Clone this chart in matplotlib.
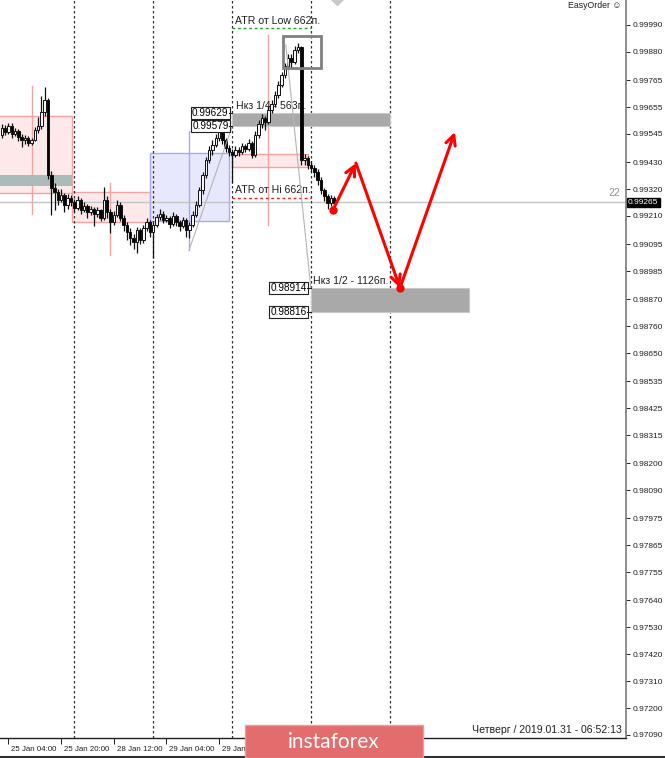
import matplotlib
matplotlib.use('Agg')
import matplotlib.pyplot as plt
import matplotlib.transforms as mtransforms
from matplotlib.patches import Rectangle
from matplotlib.lines import Line2D

plt.rcParams['font.family'] = ['Liberation Sans', 'DejaVu Sans']

# ---------------- data ----------------
bars = list(range(-2, 100))  # hourly bars, 0 = 25 Jan 04:00
opens = [0.99540, 0.99569, 0.99553, 0.99577, 0.99545, 0.99557, 0.99532, 0.99520, 0.99528, 0.99508,
         0.99520, 0.99561, 0.99577, 0.99635, 0.99684, 0.99377, 0.99324, 0.99308, 0.99275, 0.99296,
         0.99255, 0.99283, 0.99267, 0.99242, 0.99275, 0.99234, 0.99251, 0.99226, 0.99238, 0.99218,
         0.99234, 0.99202, 0.99275, 0.99226, 0.99185, 0.99214, 0.99255, 0.99202, 0.99173, 0.99144,
         0.99120, 0.99104, 0.99153, 0.99112, 0.99161, 0.99185, 0.99144, 0.99173, 0.99206, 0.99218,
         0.99194, 0.99202, 0.99177, 0.99210, 0.99185, 0.99169, 0.99194, 0.99153, 0.99173, 0.99214,
         0.99255, 0.99316, 0.99377, 0.99439, 0.99479, 0.99500, 0.99528, 0.99553, 0.99520, 0.99488,
         0.99471, 0.99459, 0.99479, 0.99471, 0.99496, 0.99484, 0.99508, 0.99459, 0.99541, 0.99584,
         0.99610, 0.99594, 0.99643, 0.99667, 0.99704, 0.99745, 0.99786, 0.99822, 0.99855, 0.99839,
         0.99888, 0.99900, 0.99439, 0.99447, 0.99418, 0.99406, 0.99390, 0.99357, 0.99316, 0.99291,
         0.99263, 0.99283]
highs = [0.99585, 0.99580, 0.99590, 0.99588, 0.99570, 0.99565, 0.99545, 0.99540, 0.99535, 0.99530,
         0.99575, 0.99615, 0.99700, 0.99737, 0.99690, 0.99395, 0.99345, 0.99320, 0.99320, 0.99305,
         0.99300, 0.99295, 0.99280, 0.99290, 0.99285, 0.99265, 0.99260, 0.99250, 0.99245, 0.99245,
         0.99240, 0.99330, 0.99290, 0.99240, 0.99230, 0.99275, 0.99265, 0.99215, 0.99185, 0.99160,
         0.99135, 0.99165, 0.99160, 0.99175, 0.99200, 0.99195, 0.99185, 0.99220, 0.99240, 0.99230,
         0.99215, 0.99210, 0.99225, 0.99220, 0.99195, 0.99205, 0.99200, 0.99185, 0.99230, 0.99270,
         0.99330, 0.99390, 0.99450, 0.99495, 0.99520, 0.99545, 0.99575, 0.99565, 0.99530, 0.99500,
         0.99485, 0.99495, 0.99490, 0.99510, 0.99505, 0.99525, 0.99515, 0.99555, 0.99600, 0.99625,
         0.99620, 0.99660, 0.99685, 0.99720, 0.99760, 0.99800, 0.99835, 0.99870, 0.99870, 0.99905,
         0.99916, 0.99905, 0.99465, 0.99455, 0.99435, 0.99420, 0.99400, 0.99370, 0.99325, 0.99300,
         0.99295, 0.99290]
lows = [0.99530, 0.99540, 0.99545, 0.99530, 0.99535, 0.99515, 0.99490, 0.99505, 0.99495, 0.99500,
        0.99515, 0.99550, 0.99565, 0.99620, 0.99360, 0.99214, 0.99235, 0.99255, 0.99265, 0.99225,
        0.99240, 0.99250, 0.99225, 0.99235, 0.99220, 0.99225, 0.99200, 0.99215, 0.99170, 0.99205,
        0.99190, 0.99195, 0.99200, 0.99140, 0.99175, 0.99205, 0.99190, 0.99150, 0.99110, 0.99090,
        0.99075, 0.99060, 0.99095, 0.99100, 0.99150, 0.99125, 0.99040, 0.99165, 0.99195, 0.99180,
        0.99185, 0.99160, 0.99170, 0.99170, 0.99150, 0.99160, 0.99125, 0.99120, 0.99165, 0.99205,
        0.99245, 0.99300, 0.99365, 0.99425, 0.99460, 0.99490, 0.99515, 0.99505, 0.99470, 0.99455,
        0.99345, 0.99450, 0.99455, 0.99465, 0.99470, 0.99475, 0.99445, 0.99450, 0.99530, 0.99570,
        0.99560, 0.99585, 0.99630, 0.99655, 0.99690, 0.99735, 0.99775, 0.99810, 0.99815, 0.99830,
        0.99875, 0.99420, 0.99420, 0.99400, 0.99390, 0.99370, 0.99335, 0.99300, 0.99270, 0.99240,
        0.99250, 0.99255]
closes = [0.99569, 0.99553, 0.99577, 0.99545, 0.99557, 0.99532, 0.99520, 0.99528, 0.99508, 0.99520,
          0.99561, 0.99577, 0.99635, 0.99684, 0.99377, 0.99324, 0.99308, 0.99275, 0.99296, 0.99255,
          0.99283, 0.99267, 0.99242, 0.99275, 0.99234, 0.99251, 0.99226, 0.99238, 0.99218, 0.99234,
          0.99202, 0.99275, 0.99226, 0.99185, 0.99214, 0.99255, 0.99202, 0.99173, 0.99144, 0.99120,
          0.99104, 0.99153, 0.99112, 0.99161, 0.99185, 0.99144, 0.99173, 0.99206, 0.99218, 0.99194,
          0.99202, 0.99177, 0.99210, 0.99185, 0.99169, 0.99194, 0.99153, 0.99173, 0.99214, 0.99255,
          0.99316, 0.99377, 0.99439, 0.99479, 0.99500, 0.99528, 0.99553, 0.99520, 0.99488, 0.99471,
          0.99459, 0.99479, 0.99471, 0.99496, 0.99484, 0.99508, 0.99459, 0.99541, 0.99584, 0.99610,
          0.99594, 0.99643, 0.99667, 0.99704, 0.99745, 0.99786, 0.99822, 0.99855, 0.99839, 0.99888,
          0.99900, 0.99439, 0.99447, 0.99418, 0.99406, 0.99390, 0.99357, 0.99316, 0.99291, 0.99263,
          0.99283, 0.99263]

price_ticks = [0.99990, 0.99880, 0.99765, 0.99655, 0.99545, 0.99430, 0.99320, 0.99210, 0.99095,
               0.98985, 0.98870, 0.98760, 0.98650, 0.98535, 0.98425, 0.98315, 0.98200, 0.98090,
               0.97975, 0.97865, 0.97755, 0.97640, 0.97530, 0.97420, 0.97310, 0.97200, 0.97090]
time_ticks = [0, 16, 32, 48, 64]
time_labels = ['25 Jan 04:00', '25 Jan 20:00', '28 Jan 12:00', '29 Jan 04:00', '29 Jan 20:00']
day_breaks = [20, 44, 68, 92, 116]
current_price = 0.99265

zone_quarter = (0.99579, 0.99629)
zone_half = (0.98816, 0.98914)
atr_low_level = 0.99978
atr_hi_level = 0.99283
forecast_x = [98.6, 105.6, 119.0, 135.7]
forecast_y = [0.99234, 0.99426, 0.98916, 0.99553]

# ---------------- figure ----------------
fig = plt.figure(figsize=(6.65, 7.58), dpi=100)
ax = fig.add_axes([0, 20 / 758, 626 / 665, 738 / 758])
ax.set_xlim(-2.58, 187.7)
ax.set_ylim(0.970777, 1.000921)

for s in ['top', 'left']:
    ax.spines[s].set_visible(False)
ax.spines['right'].set_color('#7a7a7a')
ax.spines['right'].set_linewidth(1.2)
ax.spines['bottom'].set_color('#202020')
ax.spines['bottom'].set_linewidth(1.0)

ax.yaxis.tick_right()
ax.set_yticks(price_ticks)
ax.set_yticklabels(['%.5f' % v for v in price_ticks])
ax.tick_params(axis='y', length=3, width=0.7, labelsize=6, pad=2, colors='#202020')
ax.set_xticks(time_ticks)
ax.set_xticklabels(time_labels)
ax.tick_params(axis='x', length=4, width=0.7, labelsize=5.7, pad=2, colors='#202020')
offset = mtransforms.ScaledTranslation(2 / 72, 0, fig.dpi_scale_trans)
for lbl in ax.get_xticklabels():
    lbl.set_horizontalalignment('left')
    lbl.set_transform(lbl.get_transform() + offset)

# ---------- background zones ----------
pink_face, pink_edge = '#fde9e9', '#f4a3a3'
ax.add_patch(Rectangle((-10, 0.99304), 29.3, 0.99618 - 0.99304, facecolor=pink_face,
                       edgecolor=pink_edge, lw=1, zorder=1))
ax.add_patch(Rectangle((-10, 0.99332), 29.3, 0.99377 - 0.99332, facecolor='#a9bcb9',
                       edgecolor='none', zorder=1.2))
ax.add_patch(Rectangle((19.3, 0.99185), 23.7, 0.99308 - 0.99185, facecolor=pink_face,
                       edgecolor=pink_edge, lw=1, zorder=1))
ax.add_patch(Rectangle((43.0, 0.99189), 24.0, 0.99467 - 0.99189, facecolor='#e8e8fc',
                       edgecolor='#a8a8f4', lw=1, zorder=1))
ax.add_patch(Rectangle((67.9, 0.99410), 23.2, 0.99463 - 0.99410, facecolor=pink_face,
                       edgecolor=pink_edge, lw=1, zorder=1))
ax.plot([7.1, 7.1], [0.99218, 0.99741], color='#f4a3a3', lw=1, zorder=1.1)
ax.plot([30.9, 30.9], [0.99051, 0.99345], color='#f4a3a3', lw=1, zorder=1.1)
ax.plot([78.9, 78.9], [0.99173, 0.99949], color='#f4a3a3', lw=1, zorder=1.1)
ax.plot([54.9, 54.9], [0.99071, 0.99557], color='#a8a8f4', lw=1, zorder=1.1)

# current price (bid) line
ax.axhline(current_price, color='#c4c4c4', lw=1, zorder=1.5)

# day separators
for d in day_breaks:
    ax.axvline(d, color='#303030', lw=0.9, ls=(0, (2, 2)), zorder=2)

# gray zones
ax.add_patch(Rectangle((68, zone_quarter[0]), 48, zone_quarter[1] - zone_quarter[0],
                       facecolor='#a9a9a9', edgecolor='#c8c8c8', lw=0.8, zorder=2.5))
ax.add_patch(Rectangle((92, zone_half[0]), 48, zone_half[1] - zone_half[0],
                       facecolor='#a9a9a9', edgecolor='#c8c8c8', lw=0.8, zorder=2.5))

# ATR lines
ax.plot([68, 92], [atr_low_level] * 2, color='#20a020', lw=1, ls=(0, (2, 2)), zorder=2.6)
ax.plot([68, 92], [atr_hi_level] * 2, color='#ee2020', lw=1, ls=(0, (2, 2)), zorder=2.6)

txt_kw = dict(fontsize=7.6, color='#202020', va='center', ha='left', zorder=3)
ax.text(68.9, 1.00008, 'ATR от Low 662п.', **txt_kw)
ax.text(68.9, 0.99314, 'ATR от Hi 662п.', **txt_kw)
ax.text(69.2, 0.99661, 'Нкз 1/4 - 563п.', **txt_kw)
ax.text(92.6, 0.98946, 'Нкз 1/2 - 1126п.', **txt_kw)

# ---------- candles ----------
for x, o, h, l, c in zip(bars, opens, highs, lows, closes):
    ax.plot([x, x], [l, h], color='#101010', lw=0.9, zorder=4, solid_capstyle='butt')
    bottom = min(o, c)
    height = max(abs(c - o), 0.000015)
    ax.add_patch(Rectangle((x - 0.38, bottom), 0.76, height,
                           facecolor='#f4f4f4' if c >= o else 'black',
                           edgecolor='#101010', lw=0.7, zorder=4.1))

# thin gray trend lines
ax.plot([54.9, 67.9], [0.99071, 0.99573], color='#b4b4b4', lw=0.8, zorder=4.5)
ax.plot([84.3, 91.9], [0.99908, 0.98916], color='#b4b4b4', lw=0.8, zorder=4.5)

# box around the high
ax.add_patch(Rectangle((83.4, 0.99814), 11.6, 0.99945 - 0.99814, facecolor='none',
                       edgecolor='#808080', lw=2, zorder=5))

# price label boxes
box_kw = dict(fontsize=7.2, color='black', ha='right', va='center', zorder=7,
              bbox=dict(boxstyle='square,pad=0.1', facecolor='white', edgecolor='#202020', lw=0.8))
ax.text(66.9, zone_quarter[1], '%.5f' % zone_quarter[1], **box_kw)
ax.text(66.9, zone_quarter[0], '%.5f' % zone_quarter[0], **box_kw)
ax.text(90.6, zone_half[1], '%.5f' % zone_half[1], **box_kw)
ax.text(90.6, zone_half[0], '%.5f' % zone_half[0], **box_kw)
for lev in zone_quarter:
    ax.plot([67.1, 68], [lev, lev], color='#202020', lw=0.8, zorder=7)
for lev in zone_half:
    ax.plot([90.8, 92], [lev, lev], color='#202020', lw=0.8, zorder=7)

# forecast arrows
for k in range(len(forecast_x) - 1):
    ax.annotate('', xy=(forecast_x[k + 1], forecast_y[k + 1]), xytext=(forecast_x[k], forecast_y[k]),
                arrowprops=dict(arrowstyle='->,head_length=0.7,head_width=0.35', color='#ff0000',
                                lw=2.2, shrinkA=0, shrinkB=0), zorder=6)
ax.plot([forecast_x[0], forecast_x[2]], [forecast_y[0], forecast_y[2]], 'o', color='#ff0000',
        ms=5, zorder=6.5, ls='none')

# small object marker at the top
ax.plot([99.8], [1.00098], marker='D', color='#c8c8c8', ms=6, zorder=3)

# current price tag on axis
blend = mtransforms.blended_transform_factory(ax.transAxes, ax.transData)
ax.text(1.003, current_price, '%.5f' % current_price, transform=blend, fontsize=6, color='white',
        ha='left', va='center', zorder=8, clip_on=False,
        bbox=dict(boxstyle='square,pad=0.15', facecolor='black', edgecolor='black'))

# ---------- figure texts ----------
fig.text(621 / 665, 1 - 6 / 758, 'EasyOrder \u263a', fontsize=6.3, ha='right', va='center',
         color='#202020')
fig.text(620 / 665, 1 - 193 / 758, '22', fontsize=7.5, ha='right', va='center', color='#909090')
fig.text(622 / 665, 1 - 730 / 758, 'Четверг / 2019.01.31 - 06:52:13', fontsize=7.6, ha='right',
         va='center', color='#202020')

# instaforex logo
fig.patches.append(Rectangle((245 / 665, 0), 178 / 665, 33 / 758, transform=fig.transFigure,
                             facecolor='#e36c6c', edgecolor='#f29a9a', lw=1, zorder=10))
fig.text(334 / 665, 16 / 758, 'instaforex', fontsize=15, color='white', ha='center', va='center',
         family=['Lato', 'DejaVu Sans'], zorder=11)

# window borders
fig.add_artist(Line2D([0, 1], [0.0015, 0.0015], transform=fig.transFigure, color='#303030', lw=1.5))

fig.savefig('out.png', dpi=100)
